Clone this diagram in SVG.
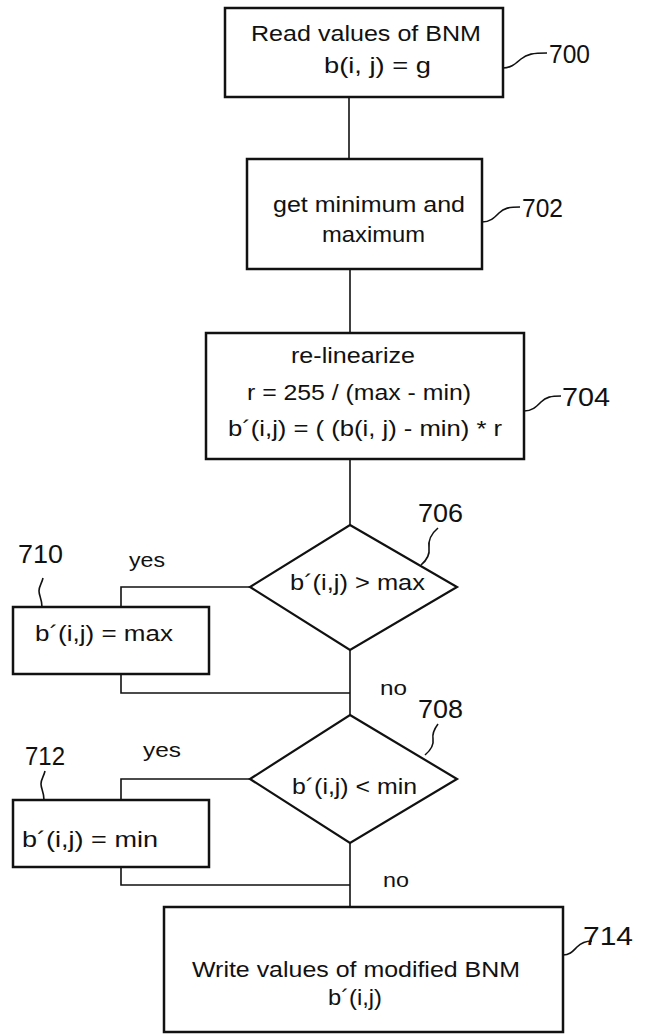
<svg xmlns="http://www.w3.org/2000/svg" width="657" height="1036" viewBox="0 0 657 1036">
<style>
.box{fill:#fff;stroke:#111;stroke-width:2.5}
.dia{fill:#fff;stroke:#111;stroke-width:2.2}
.con{fill:none;stroke:#111;stroke-width:1.6}
.lead{fill:none;stroke:#111;stroke-width:1.6}
text{font-family:"Liberation Sans",Arial,sans-serif;fill:#111}
.t{font-size:22px}
.n{font-size:26px}
.s{font-size:21px}
</style>
<rect width="657" height="1036" fill="#fff"/>
<g id="connectors">
<line class="con" x1="349" y1="97" x2="349" y2="159"/>
<line class="con" x1="350" y1="269" x2="350" y2="333"/>
<line class="con" x1="350" y1="459" x2="350" y2="525"/>
<line class="con" x1="350" y1="650" x2="350" y2="715"/>
<line class="con" x1="350" y1="843" x2="350" y2="907"/>
<polyline class="con" points="250,587 121,587 121,607"/>
<polyline class="con" points="121,674 121,693 350,693"/>
<polyline class="con" points="250,779 121,779 121,800"/>
<polyline class="con" points="121,867 121,885 350,885"/>
<text class="s" x="129" y="567" textLength="36" lengthAdjust="spacingAndGlyphs">yes</text>
<text class="s" x="380" y="695" textLength="27" lengthAdjust="spacingAndGlyphs">no</text>
<text class="s" x="143" y="757" textLength="38" lengthAdjust="spacingAndGlyphs">yes</text>
<text class="s" x="383" y="887" textLength="26" lengthAdjust="spacingAndGlyphs">no</text>
</g>
<g id="n700">
<rect class="box" x="225" y="8" width="278" height="89"/>
<text class="t" x="251" y="41" textLength="230" lengthAdjust="spacingAndGlyphs">Read values of BNM</text>
<text class="t" x="324" y="73" textLength="107" lengthAdjust="spacingAndGlyphs">b(i, j) = g</text>
<path class="lead" d="M503,68 c8,0 12,-4 18,-9 c6,-5 12,-6 26,-6"/>
<text class="n" x="549" y="63" textLength="41" lengthAdjust="spacingAndGlyphs">700</text>
</g>
<g id="n702">
<rect class="box" x="247" y="159" width="235" height="110"/>
<text class="t" x="273" y="212" textLength="192" lengthAdjust="spacingAndGlyphs">get minimum and</text>
<text class="t" x="322" y="242" textLength="103" lengthAdjust="spacingAndGlyphs">maximum</text>
<path class="lead" d="M482,222 c8,0 12,-4 17,-9 c5,-5 10,-6 21,-6"/>
<text class="n" x="522" y="217" textLength="41" lengthAdjust="spacingAndGlyphs">702</text>
</g>
<g id="n704">
<rect class="box" x="206" y="333" width="318" height="126"/>
<text class="t" x="291" y="363" textLength="124" lengthAdjust="spacingAndGlyphs">re-linearize</text>
<text class="t" x="247" y="400" textLength="224" lengthAdjust="spacingAndGlyphs">r = 255 / (max - min)</text>
<text class="t" x="228" y="436" textLength="274" lengthAdjust="spacingAndGlyphs">b´(i,j) = ( (b(i, j) - min) * r</text>
<path class="lead" d="M524,411 c8,0 12,-4 17,-9 c5,-5 10,-6 20,-6"/>
<text class="n" x="562" y="406" textLength="48" lengthAdjust="spacingAndGlyphs">704</text>
</g>
<g id="n706">
<polygon class="dia" points="350,525 457,587 350,650 250,587"/>
<text class="t" x="290" y="590" textLength="135" lengthAdjust="spacingAndGlyphs">b´(i,j) &gt; max</text>
<path class="lead" d="M421,565 c6,-5 9,-10 8,-17 c-1,-8 3,-15 9,-20"/>
<text class="n" x="418" y="522" textLength="45" lengthAdjust="spacingAndGlyphs">706</text>
</g>
<g id="n708">
<polygon class="dia" points="350,715 457,779 350,843 250,779"/>
<text class="t" x="292" y="794" textLength="125" lengthAdjust="spacingAndGlyphs">b´(i,j) &lt; min</text>
<path class="lead" d="M425,755 c6,-5 9,-10 8,-16 c-1,-6 2,-11 5,-15"/>
<text class="n" x="418" y="718" textLength="45" lengthAdjust="spacingAndGlyphs">708</text>
</g>
<g id="n710">
<rect class="box" x="13" y="607" width="196" height="67"/>
<text class="t" x="35" y="641" textLength="138" lengthAdjust="spacingAndGlyphs">b´(i,j) = max</text>
<path class="lead" d="M42,607 c0,-8 -3,-11 -3,-16 c0,-5 3,-8 4,-13"/>
<text class="n" x="18" y="563" textLength="45" lengthAdjust="spacingAndGlyphs">710</text>
</g>
<g id="n712">
<rect class="box" x="13" y="800" width="196" height="67"/>
<text class="t" x="22" y="847" textLength="136" lengthAdjust="spacingAndGlyphs">b´(i,j) = min</text>
<path class="lead" d="M44,800 c0,-8 -3,-11 -3,-16 c0,-5 3,-8 4,-13"/>
<text class="n" x="25" y="765" textLength="40" lengthAdjust="spacingAndGlyphs">712</text>
</g>
<g id="n714">
<rect class="box" x="164" y="907" width="399" height="125"/>
<text class="t" x="192" y="977" textLength="328" lengthAdjust="spacingAndGlyphs">Write values of modified BNM</text>
<text class="t" x="328" y="1005" textLength="54" lengthAdjust="spacingAndGlyphs">b´(i,j)</text>
<path class="lead" d="M563,955 c7,0 10,-4 14,-8 c4,-4 8,-6 15,-6"/>
<text class="n" x="583" y="945" textLength="50" lengthAdjust="spacingAndGlyphs">714</text>
</g>
</svg>
